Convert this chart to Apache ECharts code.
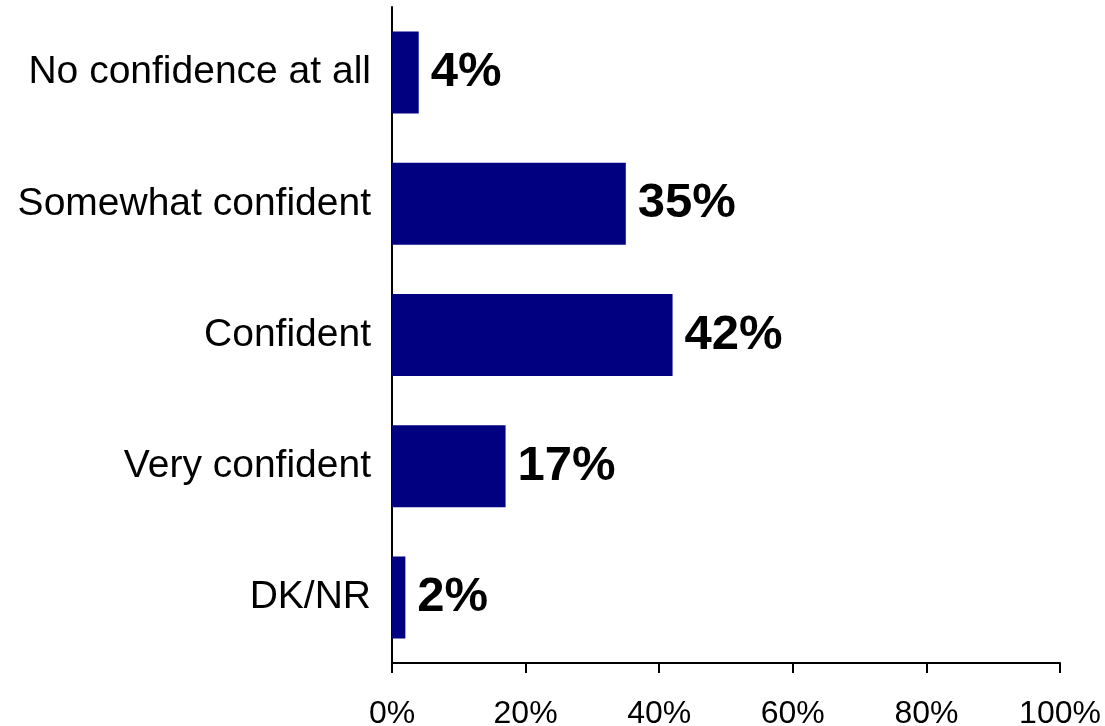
<!DOCTYPE html>
<html>
<head>
<meta charset="utf-8">
<script src="https://cdn.jsdelivr.net/npm/echarts@6/dist/echarts.min.js"></script>
<style>
html,body{margin:0;padding:0;background:#fff;}
#c{width:1105px;height:726px;}
</style>
</head>
<body>
<div id="c"></div>
<script>
const categories = ["No confidence at all", "Somewhat confident", "Confident", "Very confident", "DK/NR"];
const values = [4, 35, 42, 17, 2];
const xTicks = [0, 20, 40, 60, 80, 100];

const chart = echarts.init(document.getElementById('c'));
chart.setOption({
  animation: false,
  backgroundColor: '#ffffff',
  grid: { left: 392, right: 45, top: 7, bottom: 63, containLabel: false, outerBoundsMode: 'none' },
  xAxis: {
    type: 'value', min: xTicks[0], max: xTicks[xTicks.length - 1], interval: 20,
    axisLine: { show: true, lineStyle: { color: '#000', width: 2 } },
    axisTick: { show: true, length: 10, lineStyle: { color: '#000', width: 2 } },
    splitLine: { show: false },
    axisLabel: {
      margin: 35, color: '#000', fontSize: 32, fontFamily: 'Liberation Sans, Arial, sans-serif',
      formatter: v => v + '%'
    }
  },
  yAxis: {
    type: 'category', inverse: true, data: categories,
    axisLine: { show: true, lineStyle: { color: '#000', width: 2 } },
    axisTick: { show: false },
    axisLabel: { margin: 21, color: '#000', fontSize: 39, padding: [5, 0, 0, 0],
      fontFamily: 'Liberation Sans, Arial, sans-serif' }
  },
  series: [{
    type: 'bar', data: values, barWidth: 82,
    itemStyle: { color: '#000080' },
    label: {
      show: true, position: 'right', distance: 12,
      color: '#000', fontSize: 49, fontWeight: 'bold', fontFamily: 'Liberation Sans, Arial, sans-serif',
      formatter: p => p.value + '%'
    }
  }]
});
</script>
</body>
</html>
